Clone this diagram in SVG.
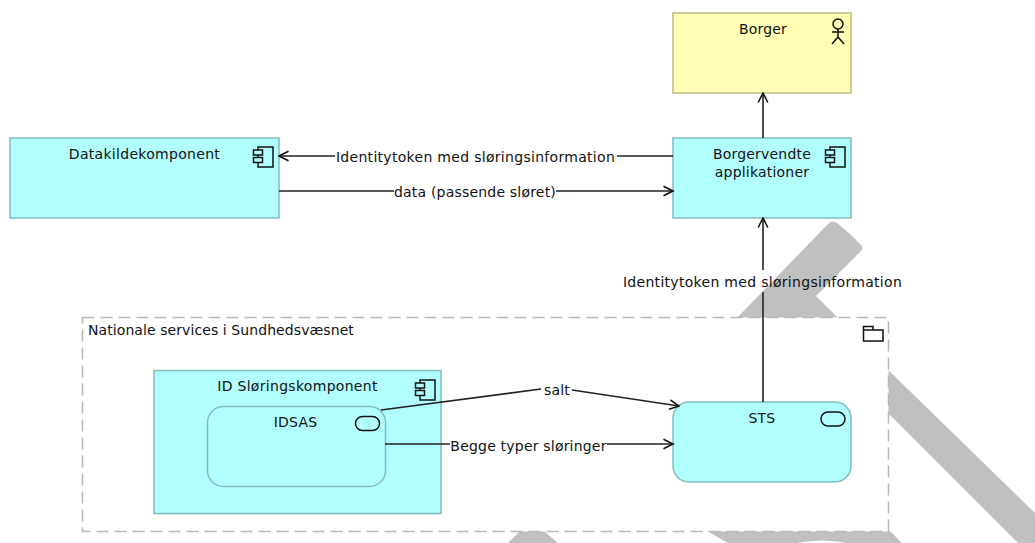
<svg xmlns="http://www.w3.org/2000/svg" width="1035" height="543" viewBox="0 0 1035 543">
<defs>
<marker id="arr" markerUnits="userSpaceOnUse" markerWidth="12" markerHeight="14" refX="10.500" refY="7" orient="auto"><path d="M1 2.200L10.500 7L1 11.800" fill="none" stroke="#111" stroke-width="1.600"/></marker>
<g id="comp"><path d="M5 3V0H20V20H5V15.500M5 10.500V8" class="ic"/><rect x="0.500" y="3" width="9" height="5" class="ic"/><rect x="0.500" y="10.500" width="9" height="5" class="ic"/></g>
<rect id="svc" width="24" height="14" rx="7" class="ic"/>
</defs>
<style>
text{font-family:"DejaVu Sans",sans-serif;font-size:14px;fill:#111;text-anchor:middle;letter-spacing:.2px}
.wide{letter-spacing:.3px}
.ic{fill:none;stroke:#111;stroke-width:1.500}
.cy{fill:#b2ffff;stroke:#84bcbc;stroke-width:1.500}
.ye{fill:#ffffb5;stroke:#bcbc85;stroke-width:1.500}
.c{fill:none;stroke:#222;stroke-width:1.600}
.lb{fill:#fff}
</style>
<g id="watermark" fill="#c0c0c0">
<path d="M735 320L829 223Q833 220 837 223Q850 233 861 245Q864 248 861 251L816 296L840 320Z"/>
<path d="M880 362L1035 513V543H1018L880 405Z"/>
<path d="M508 543L520 531H544L558 543Z"/>
<path d="M707 531H890L902 543H847Q822 538 797 543H728Z"/>
</g>
<g id="group-nationale">
<rect x="82.500" y="317.500" width="806" height="214" fill="#fff" stroke="#b8b8b8" stroke-width="1.500" stroke-dasharray="12 6"/>
<text x="88" y="335" style="text-anchor:start;letter-spacing:.08px">Nationale services i Sundhedsvæsnet</text>
<path d="M863.500 330V326.500H873V330M863.500 330H883V341H863.500Z" class="ic"/>
</g>
<g id="node-borger">
<rect x="673" y="13" width="178" height="80" class="ye"/>
<text x="763" y="34">Borger</text>
<circle cx="838" cy="24" r="5" class="ic"/><path d="M838 29V37M832 32H844M832 44L838 37L844 44" class="ic"/>
</g>
<g id="node-borgervendte">
<rect x="673" y="138" width="178" height="80" class="cy"/>
<text x="762" y="159">Borgervendte</text><text x="762" y="177">applikationer</text>
<use href="#comp" x="825" y="147"/>
</g>
<g id="node-datakilde">
<rect x="10" y="138" width="269" height="80" class="cy"/>
<text x="144.500" y="159" class="wide">Datakildekomponent</text>
<use href="#comp" x="253" y="147"/>
</g>
<g id="node-idslor">
<rect x="154" y="370.500" width="287" height="143" class="cy"/>
<text x="297.500" y="391" class="wide">ID Sløringskomponent</text>
<use href="#comp" x="415" y="380"/>
</g>
<g id="node-idsas">
<rect x="207.500" y="406.500" width="178" height="80" rx="16" class="cy"/>
<text x="295.500" y="427">IDSAS</text>
<use href="#svc" x="355.500" y="416.500"/>
</g>
<g id="node-sts">
<rect x="673" y="402" width="178" height="80" rx="16" class="cy"/>
<text x="762" y="423">STS</text>
<use href="#svc" x="821" y="412"/>
</g>
<g id="connectors">
<path class="c" d="M763 138V93" marker-end="url(#arr)"/>
<path class="c" d="M673 156H617M335 156H279" marker-end="url(#arr)"/>
<path class="c" d="M279 191H394M556 191H673" marker-end="url(#arr)"/>
<path class="c" d="M763 402V292M763 270V218" marker-end="url(#arr)"/>
<path class="c" d="M381 410L541 389M572 390L679 406" marker-end="url(#arr)"/>
<path class="c" d="M385 444H450M607 444H673" marker-end="url(#arr)"/>
</g>
<g id="labels">
<text x="475.500" y="162" class="wide">Identitytoken med sløringsinformation</text>
<text x="475" y="197">data (passende sløret)</text>
<text x="762.500" y="287" class="wide">Identitytoken med sløringsinformation</text>
<text x="557" y="395">salt</text>
<text x="528.500" y="451">Begge typer sløringer</text>
</g>
</svg>
